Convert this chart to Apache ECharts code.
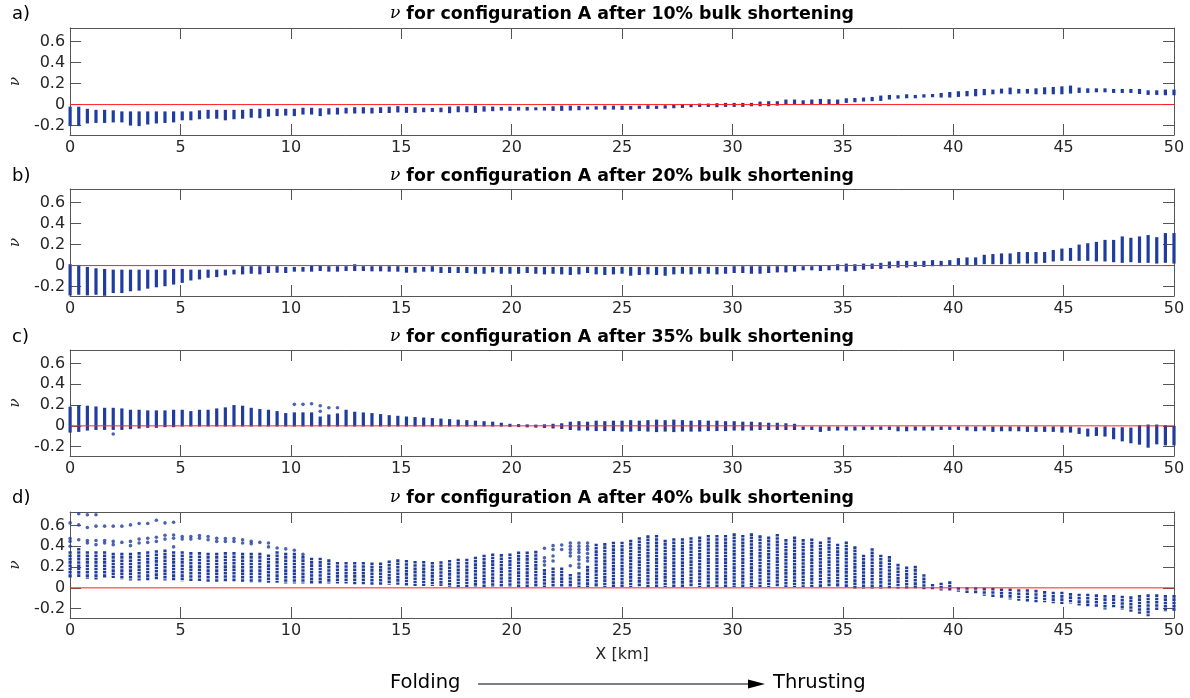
<!DOCTYPE html>
<html>
<head>
<meta charset="utf-8">
<script src="https://cdn.jsdelivr.net/npm/echarts@6/dist/echarts.min.js"></script>
<style>
html, body { margin: 0; padding: 0; background: #fff; }
#chart { width: 1190px; height: 698px; }
</style>
</head>
<body>
<div id="chart"></div>
<script>
// model columns along the section, 0..50 km
var NCOL = 129;
var xKm = [];
for (var i = 0; i < NCOL; i++) xKm.push(+(i * 50 / 128).toFixed(4));

var xTicks = [0, 5, 10, 15, 20, 25, 30, 35, 40, 45, 50];
var yTicks = [-0.2, 0, 0.2, 0.4, 0.6];
var shortening = ['10%', '20%', '35%', '40%'];
var panelTags = ['a)', 'b)', 'c)', 'd)'];

// panel a: top / bottom of the nu values in every column
var aHi = [-0.02,-0.02,-0.04,-0.05,-0.05,-0.055,-0.065,-0.065,-0.065,-0.065,-0.065,-0.065,-0.065,-0.065,-0.065,-0.055,-0.05,-0.05,-0.05,-0.05,-0.05,-0.04,-0.04,-0.04,-0.04,-0.04,-0.04,-0.03,-0.03,-0.035,-0.035,-0.03,-0.03,-0.025,-0.025,-0.03,-0.025,-0.02,-0.015,
  -0.022,-0.025,-0.029,-0.032,-0.029,-0.019,-0.016,-0.016,-0.010,-0.016,-0.019,-0.022,-0.019,-0.022,-0.022,-0.029,-0.022,-0.016,-0.010,-0.010,-0.013,-0.019,-0.016,-0.010,-0.010,-0.010,-0.013,-0.010,-0.006,-0.010,-0.006,-0.003,0.003,0.006,0.010,0.010,0.013,0.016,0.016,0.016,0.016,0.029,0.032,0.032,0.048,0.048,
  0.041,0.048,0.054,0.051,0.048,0.060,0.063,0.067,0.073,0.086,0.092,0.089,0.098,0.092,0.098,0.101,0.111,0.120,0.127,0.130,0.149,0.149,0.143,0.152,0.162,0.149,0.149,0.155,0.165,0.168,0.174,0.181,0.162,0.155,0.155,0.155,0.149,0.149,0.149,0.149,0.136,0.136,0.143,0.143];
var aLo = [-0.205,-0.205,-0.18,-0.175,-0.175,-0.17,-0.17,-0.2,-0.205,-0.19,-0.18,-0.175,-0.17,-0.15,-0.15,-0.14,-0.135,-0.135,-0.15,-0.14,-0.135,-0.125,-0.13,-0.115,-0.11,-0.105,-0.11,-0.095,-0.095,-0.11,-0.095,-0.095,-0.085,-0.085,-0.085,-0.085,-0.08,-0.08,-0.075,
  -0.079,-0.079,-0.073,-0.070,-0.073,-0.082,-0.073,-0.073,-0.079,-0.067,-0.063,-0.057,-0.060,-0.057,-0.057,-0.051,-0.057,-0.060,-0.060,-0.057,-0.054,-0.048,-0.048,-0.048,-0.048,-0.051,-0.048,-0.041,-0.041,-0.041,-0.038,-0.035,-0.032,-0.025,-0.022,-0.022,-0.025,-0.022,-0.022,-0.022,-0.016,-0.016,-0.016,-0.010,-0.003,0.000,
  -0.003,0.003,0.003,0.003,0.003,0.016,0.022,0.029,0.032,0.035,0.048,0.057,0.060,0.060,0.067,0.070,0.067,0.067,0.073,0.079,0.079,0.089,0.098,0.105,0.098,0.105,0.105,0.098,0.098,0.098,0.098,0.105,0.111,0.111,0.117,0.117,0.111,0.111,0.111,0.101,0.092,0.092,0.089,0.089];

// panel b
var bHi = [0.013,0.006,-0.013,-0.026,-0.032,-0.039,-0.039,-0.039,-0.039,-0.039,-0.039,-0.039,-0.032,-0.032,-0.039,-0.039,-0.039,-0.039,-0.039,-0.039,-0.006,-0.006,-0.006,-0.006,-0.006,-0.013,-0.013,-0.013,0,-0.003,-0.006,-0.006,-0.006,0.013,-0.006,-0.006,-0.006,-0.006,-0.006,
  -0.013,-0.013,-0.013,-0.006,-0.013,-0.013,-0.013,-0.013,-0.013,-0.013,-0.013,-0.013,-0.013,-0.013,-0.013,-0.013,-0.013,-0.013,-0.013,-0.013,-0.013,-0.013,-0.013,-0.013,-0.013,-0.013,-0.013,-0.013,-0.013,-0.013,-0.013,-0.013,-0.013,-0.013,-0.013,-0.013,-0.013,-0.013,-0.006,-0.006,-0.006,-0.006,-0.006,-0.006,0,0,
  -0.006,-0.006,0,0,0.013,0.019,0.013,0.019,0.019,0.026,0.039,0.045,0.045,0.039,0.045,0.052,0.045,0.052,0.071,0.078,0.078,0.103,0.11,0.116,0.116,0.129,0.129,0.129,0.129,0.149,0.162,0.168,0.2,0.213,0.226,0.245,0.245,0.278,0.265,0.278,0.291,0.271,0.31,0.31];
var bLo = [-0.285,-0.278,-0.284,-0.278,-0.288,-0.262,-0.262,-0.245,-0.239,-0.22,-0.207,-0.197,-0.181,-0.165,-0.142,-0.132,-0.116,-0.11,-0.094,-0.084,-0.084,-0.078,-0.084,-0.071,-0.068,-0.071,-0.058,-0.058,-0.058,-0.052,-0.058,-0.058,-0.052,-0.052,-0.052,-0.055,-0.055,-0.058,-0.058,
  -0.068,-0.068,-0.058,-0.058,-0.071,-0.071,-0.071,-0.071,-0.078,-0.078,-0.065,-0.078,-0.078,-0.078,-0.071,-0.078,-0.084,-0.078,-0.084,-0.09,-0.084,-0.071,-0.084,-0.09,-0.084,-0.078,-0.097,-0.09,-0.084,-0.09,-0.097,-0.084,-0.078,-0.084,-0.078,-0.078,-0.084,-0.078,-0.071,-0.071,-0.078,-0.078,-0.071,-0.065,-0.065,-0.058,
  -0.045,-0.045,-0.052,-0.045,-0.045,-0.058,-0.052,-0.039,-0.032,-0.032,-0.026,-0.019,-0.019,-0.013,-0.013,-0.006,-0.006,0,0.006,0.006,0.006,0.013,0.013,0.013,0.013,0.019,0.019,0.019,0.026,0.039,0.045,0.045,0.045,0.045,0.039,0.039,0.032,0.026,0.032,0.026,0.026,0.019,0.026,0.019];

// panel c
var cHi = [0.184,0.2,0.194,0.187,0.174,0.174,0.168,0.155,0.155,0.149,0.149,0.149,0.155,0.155,0.142,0.155,0.155,0.168,0.178,0.2,0.194,0.174,0.162,0.155,0.142,0.123,0.13,0.13,0.13,0.09,0.11,0.12,0.155,0.136,0.129,0.123,0.113,0.103,0.097,
  0.09,0.085,0.08,0.075,0.07,0.065,0.06,0.055,0.05,0.045,0.04,0.03,0.02,0.015,0.01,0.01,0.015,0.02,0.025,
  0.04,0.045,0.04,0.05,0.045,0.05,0.05,0.055,0.05,0.055,0.06,0.055,0.06,0.055,0.05,0.055,0.05,0.05,0.045,0.045,0.04,0.04,0.035,0.03,0.03,0.025,0.02,
  -0.006,-0.006,-0.006,-0.006,-0.006,-0.006,-0.006,-0.006,-0.006,-0.006,-0.006,-0.006,-0.006,-0.006,-0.006,-0.006,-0.006,-0.006,-0.006,-0.006,-0.006,-0.006,-0.006,-0.006,-0.006,-0.006,-0.006,-0.006,-0.006,-0.006,-0.006,-0.006,
  -0.016,-0.026,-0.013,-0.006,-0.016,-0.013,-0.016,0.006,0.013,0.013,0.006,0];
var cLo = [-0.065,-0.058,-0.045,-0.039,-0.039,-0.039,-0.039,-0.032,-0.026,-0.019,-0.019,-0.013,-0.013,
  -0.006,-0.006,-0.006,-0.006,-0.006,-0.006,-0.006,-0.006,-0.006,-0.006,-0.006,-0.006,-0.006,-0.006,-0.006,-0.006,-0.006,-0.006,-0.006,-0.006,-0.006,-0.006,-0.006,-0.006,-0.006,-0.006,
  -0.006,-0.006,-0.006,-0.006,-0.006,-0.006,-0.006,-0.006,-0.006,-0.006,-0.006,-0.006,-0.01,-0.01,-0.01,-0.015,-0.02,-0.025,-0.03,
  -0.04,-0.045,-0.045,-0.05,-0.05,-0.05,-0.055,-0.055,-0.05,-0.055,-0.06,-0.055,-0.06,-0.055,-0.055,-0.055,-0.05,-0.05,-0.05,-0.045,-0.045,-0.045,-0.04,-0.04,-0.04,-0.04,-0.04,
  -0.039,-0.039,-0.058,-0.048,-0.045,-0.045,-0.045,-0.039,-0.039,-0.039,-0.039,-0.052,-0.052,-0.045,-0.045,-0.045,-0.039,-0.039,-0.039,-0.045,-0.052,-0.045,-0.058,-0.052,-0.052,-0.052,-0.058,-0.058,-0.058,-0.058,-0.065,-0.065,-0.078,-0.103,-0.097,-0.103,-0.129,-0.149,-0.168,-0.181,-0.21,-0.178,-0.188,-0.188];
// isolated points of panel c: [column, nu]
var cDots = [[5,-0.078],[26,0.207],[27,0.207],[28,0.213],[29,0.194],[29,0.14],[30,0.174],[31,0.174]];

// panel d: dense part of each column
var dHi = [0.353,0.384,0.353,0.353,0.353,0.3375,0.3375,0.3375,0.344,0.353,0.3625,0.369,0.353,0.353,0.344,0.344,0.3375,0.3375,0.344,0.344,0.3375,0.3375,0.3375,0.322,0.353,0.3375,0.3375,0.306,0.29,0.29,0.275,0.25,0.25,0.25,0.25,0.244,0.244,0.2625,0.275,
  0.269,0.259,0.259,0.25,0.256,0.269,0.281,0.281,0.3,0.319,0.331,0.325,0.331,0.35,0.35,0.356,
  0.181,0.197,0.197,0.134,0.15,0.2125,
  0.425,0.431,0.444,0.444,0.4625,0.4875,0.506,0.509,0.4625,0.478,0.478,0.4875,0.494,0.509,0.509,0.509,0.525,0.509,0.525,0.506,0.494,0.519,0.469,0.494,
  0.469,0.475,0.447,0.4875,0.425,0.447,0.4,0.319,0.381,0.319,0.306,0.231,0.206,0.2125,0.131,0.0375,0.05,0.0625,0.006,0.006,0.006,0,0,-0.006,-0.006,-0.0125,-0.0125,-0.019,-0.031,-0.0375,-0.0375,-0.05,-0.056,-0.056,-0.0625,-0.069,-0.069,-0.075,-0.081,-0.069,-0.0625,-0.0625,-0.069,-0.069];
var dLo = [0.094,0.103,0.0875,0.081,0.094,0.094,0.081,0.072,0.072,0.072,0.081,0.072,0.072,0.0625,0.0625,0.0625,0.056,0.056,0.056,0.056,0.056,0.05,0.05,0.05,0.05,0.041,0.041,0.041,0.041,0.041,0.041,0.041,0.041,0.031,0.031,0.031,0.031,0.031,0.031,
  0.019,0.019,0.019,0.019,0.019,
  0.009,0.009,0.009,0.009,0.009,0.009,0.009,0.009,0.009,0.009,0.009,0.009,0.009,0.009,0.009,0.009,0.009,0.009,0.009,0.009,0.009,0.009,0.009,0.009,0.009,0.009,0.009,0.009,0.009,0.009,0.009,0.009,0.009,0.009,0.009,0.009,0.009,0.009,0.009,0.009,0.009,
  0.009,0.009,0.009,0.009,0.009,0.009,-0.006,-0.006,-0.006,-0.006,-0.006,-0.006,-0.006,-0.006,-0.0125,-0.0125,-0.025,-0.025,-0.0375,-0.05,-0.056,-0.075,-0.094,-0.1,-0.1125,-0.125,-0.131,-0.1375,-0.1375,-0.147,-0.156,-0.15,-0.169,-0.178,-0.1875,-0.209,-0.1875,-0.209,-0.231,-0.25,-0.272,-0.2125,-0.231,-0.225];
// isolated points of panel d: [column, nu]
var dDots = [
  [0,0.731],[0,0.625],[0,0.475],[0,0.447],[0,0.4],
  [1,0.7125],[1,0.606],[1,0.4625],
  [2,0.703],[2,0.581],[2,0.456],[2,0.431],
  [3,0.703],[3,0.594],[3,0.456],[3,0.416],
  [4,0.594],[4,0.456],[4,0.431],
  [5,0.594],[5,0.447],[5,0.416],
  [6,0.594],[6,0.4375],
  [7,0.606],[7,0.447],[7,0.406],
  [8,0.619],[8,0.469],[8,0.431],
  [9,0.619],[9,0.478],[9,0.4375],
  [10,0.65],[10,0.4875],[10,0.447],
  [11,0.625],[11,0.506],[11,0.469],
  [12,0.631],[12,0.509],[12,0.478],[12,0.394],
  [13,0.494],[13,0.469],[14,0.494],[14,0.469],[15,0.503],[15,0.478],[16,0.494],[16,0.4625],
  [17,0.478],[17,0.447],[18,0.475],[18,0.447],[19,0.475],[19,0.447],[20,0.4625],[20,0.431],
  [21,0.447],[21,0.425],[22,0.4375],[23,0.431],[23,0.394],[24,0.384],[25,0.375],[26,0.3625],[27,0.322],
  [55,0.381],[55,0.29],[55,0.256],[55,0.219],
  [56,0.406],[56,0.369],[56,0.306],[56,0.259],
  [57,0.4125],[57,0.369],
  [58,0.431],[58,0.4],[58,0.369],[58,0.338],[58,0.306],[58,0.2125],
  [59,0.431],[59,0.4],[59,0.369],[59,0.34],[59,0.3],[59,0.27],[59,0.23],[59,0.197],
  [60,0.431],[60,0.4],[60,0.37],[60,0.33],[60,0.29],[60,0.259]
];

var panels = [
  { hi: aHi, lo: aLo, dots: [], dash: null },
  { hi: bHi, lo: bLo, dots: [], dash: null },
  { hi: cHi, lo: cLo, dots: cDots, dash: null },
  { hi: dHi, lo: dLo, dots: dDots, dash: [2.6, 0.7] }
];

var BLUE = '#1f3c9e';
var AX = '#555555';
var TXT = '#262626';
var FONT = '"DejaVu Sans", sans-serif';
var gridTop = [28, 189, 350, 512];
var gridH = [107, 107, 106, 106];
var titleY = [14, 176, 337, 498];

function columnItem(dash) {
  return function (params, api) {
    var x = api.value(0);
    var a = api.coord([x, api.value(1)]);
    var b = api.coord([x, api.value(2)]);
    var y1 = Math.min(a[1], b[1]), y2 = Math.max(a[1], b[1]);
    if (y2 - y1 < 3) { var m = (y1 + y2) / 2; y1 = m - 1.5; y2 = m + 1.5; }
    return {
      type: 'line',
      shape: { x1: a[0], y1: y1, x2: a[0], y2: y2 },
      style: { stroke: BLUE, lineWidth: 3.2, lineDash: dash, lineCap: 'butt' },
      silent: true
    };
  };
}

var grid = [], xAxis = [], yAxis = [], series = [], graphic = [];

panels.forEach(function (p, k) {
  grid.push({ left: 70, width: 1104, top: gridTop[k], height: gridH[k] });
  var line = { onZero: false, lineStyle: { color: AX } };
  var tickStyle = { inside: true, length: 11, lineStyle: { color: AX } };
  xAxis.push({
    gridIndex: k, type: 'value', min: 0, max: 50, interval: 5, position: 'bottom',
    axisLine: line, axisTick: tickStyle, splitLine: { show: false },
    axisLabel: { color: TXT, fontSize: 16, fontFamily: FONT, margin: 5 },
    name: k === 3 ? 'X [km]' : '', nameLocation: 'middle', nameGap: 29,
    nameTextStyle: { color: TXT, fontSize: 16, fontFamily: FONT }
  });
  xAxis.push({
    gridIndex: k, type: 'value', min: 0, max: 50, interval: 5, position: 'top',
    axisLine: line, axisTick: tickStyle, splitLine: { show: false },
    axisLabel: { show: false }
  });
  yAxis.push({
    gridIndex: k, type: 'value', min: -0.29, max: 0.73, position: 'left',
    axisLine: { show: true, onZero: false, lineStyle: { color: AX } },
    axisTick: { inside: true, length: 11, lineStyle: { color: AX }, customValues: yTicks },
    axisLabel: { color: TXT, fontSize: 16, fontFamily: FONT, margin: 5, customValues: yTicks },
    splitLine: { show: false },
    name: 'ν', nameLocation: 'middle', nameRotate: 90, nameGap: 44,
    nameTextStyle: { color: TXT, fontSize: 15, fontStyle: 'italic', fontFamily: '"DejaVu Serif", serif' }
  });
  yAxis.push({
    gridIndex: k, type: 'value', min: -0.29, max: 0.73, position: 'right',
    axisLine: { show: true, onZero: false, lineStyle: { color: AX } },
    axisTick: { inside: true, length: 11, lineStyle: { color: AX }, customValues: yTicks },
    axisLabel: { show: false, customValues: yTicks },
    splitLine: { show: false }
  });

  var cols = xKm.map(function (x, i) { return [x, p.lo[i], p.hi[i]]; });
  series.push({
    type: 'custom', xAxisIndex: 2 * k, yAxisIndex: 2 * k,
    renderItem: columnItem(p.dash), encode: { x: 0, y: [1, 2] },
    data: cols, z: 2, animation: false
  });
  if (p.dots.length) {
    series.push({
      type: 'scatter', xAxisIndex: 2 * k, yAxisIndex: 2 * k,
      data: p.dots.map(function (d) { return [xKm[d[0]], d[1]]; }),
      symbolSize: 3.6, itemStyle: { color: BLUE }, z: 2, animation: false, silent: true
    });
  }
  series.push({
    type: 'line', xAxisIndex: 2 * k, yAxisIndex: 2 * k,
    data: [[0, 0], [50, 0]], symbol: 'none',
    lineStyle: { color: '#ff2020', width: 1 }, z: 5, animation: false, silent: true
  });

  graphic.push({
    type: 'text', x: 12, y: titleY[k],
    style: { text: panelTags[k], fontSize: 18, fontFamily: FONT, fill: '#000', verticalAlign: 'middle' }
  });
  graphic.push({
    type: 'text', x: 622, y: titleY[k],
    style: {
      text: '{n|ν} for configuration A after ' + shortening[k] + ' bulk shortening',
      fontSize: 17.4, fontWeight: 'bold', fontFamily: FONT, fill: '#000',
      align: 'center', verticalAlign: 'middle',
      rich: { n: { fontFamily: '"DejaVu Serif", serif', fontStyle: 'italic', fontWeight: 'normal', fontSize: 17 } }
    }
  });
});

graphic.push({ type: 'text', x: 390, y: 683, style: { text: 'Folding', fontSize: 19.5, fontFamily: FONT, fill: '#000', verticalAlign: 'middle' } });
graphic.push({ type: 'text', x: 773, y: 683, style: { text: 'Thrusting', fontSize: 19.5, fontFamily: FONT, fill: '#000', verticalAlign: 'middle' } });
graphic.push({ type: 'line', shape: { x1: 478, y1: 684, x2: 752, y2: 684 }, style: { stroke: '#000', lineWidth: 1 } });
graphic.push({ type: 'polygon', shape: { points: [[765, 684], [748, 679.5], [748, 688.5]] }, style: { fill: '#000' } });

var chart = echarts.init(document.getElementById('chart'));
chart.setOption({
  animation: false,
  backgroundColor: '#fff',
  grid: grid,
  xAxis: xAxis,
  yAxis: yAxis,
  series: series,
  graphic: graphic
});
</script>
</body>
</html>
